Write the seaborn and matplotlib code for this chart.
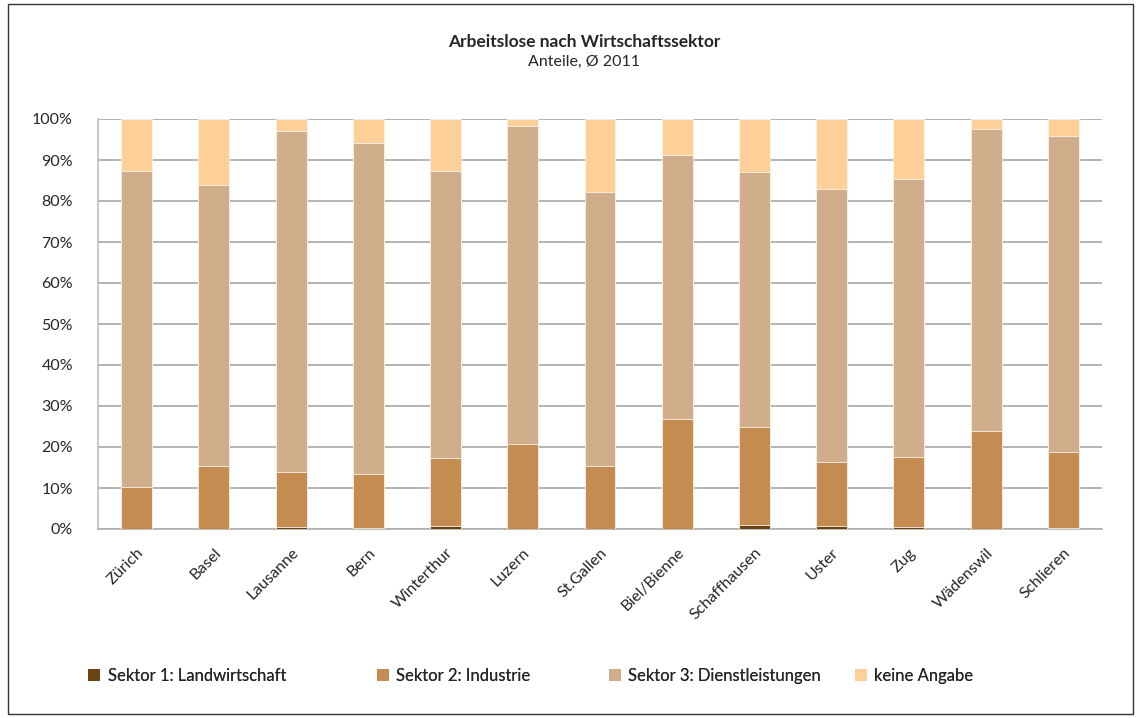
import numpy as np
import pandas as pd
import matplotlib.pyplot as plt
import seaborn as sns
from matplotlib.patches import Patch, Rectangle

# Data (shares in %)
staedte = ['Zürich', 'Basel', 'Lausanne', 'Bern', 'Winterthur', 'Luzern', 'St.Gallen',
           'Biel/Bienne', 'Schaffhausen', 'Uster', 'Zug', 'Wädenswil', 'Schlieren']
sektor1 = [0.1, 0.1, 0.4, 0.2, 0.7, 0.1, 0.1, 0.1, 0.9, 0.7, 0.4, 0.1, 0.2]
sektor2 = [10.1, 15.3, 13.6, 13.1, 16.5, 20.7, 15.3, 26.8, 24.0, 15.7, 17.2, 23.7, 18.7]
sektor3 = [77.2, 68.6, 83.1, 80.9, 70.0, 77.4, 66.9, 64.4, 62.2, 66.5, 67.8, 73.8, 76.9]
keine_angabe = [12.6, 16.0, 2.9, 5.8, 12.8, 1.8, 17.7, 8.7, 12.9, 17.1, 14.6, 2.4, 4.2]

labels = ['Sektor 1: Landwirtschaft', 'Sektor 2: Industrie',
          'Sektor 3: Dienstleistungen', 'keine Angabe']
farben = ['#6B4312', '#C48C50', '#D0AE8C', '#FECF97']

df = pd.DataFrame({'Stadt': staedte, 's1': sektor1, 's2': sektor2,
                   's3': sektor3, 's4': keine_angabe})
# normalise to 100 and build cumulative tops for stacking
tot = df[['s1', 's2', 's3', 's4']].sum(axis=1)
for c in ['s1', 's2', 's3', 's4']:
    df[c] = df[c] / tot * 100
df['c1'] = df['s1'] / 100
df['c2'] = (df['s1'] + df['s2']) / 100
df['c3'] = (df['s1'] + df['s2'] + df['s3']) / 100
df['c4'] = (df['s1'] + df['s2'] + df['s3'] + df['s4']) / 100

sns.set_style('white')
plt.rcParams['font.family'] = ['Lato', 'DejaVu Sans']

fig = plt.figure(figsize=(11.38, 7.18), dpi=100)
ax = fig.add_axes([98 / 1138, 1 - 529 / 718, 1004 / 1138, 410 / 718])

# draw tallest first so the lower segments sit on top
for col, farbe in zip(['c4', 'c3', 'c2', 'c1'], farben[::-1]):
    sns.barplot(data=df, x='Stadt', y=col, color=farbe, width=0.4,
                edgecolor='#fbf3ea', linewidth=0.6, saturation=1, ax=ax, zorder=3)

ax.set_ylim(0, 1)
ax.set_xlim(-0.5, len(staedte) - 0.5)
ax.set_yticks(np.arange(0, 1.01, 0.1))
ax.set_yticklabels([f'{int(round(v * 100))}%' for v in np.arange(0, 1.01, 0.1)])
ax.yaxis.grid(True, color='#a6a6a6', linewidth=1.2, zorder=0)
ax.set_axisbelow(True)
ax.set_xlabel('')
ax.set_ylabel('')

ax.set_xticks(range(len(staedte)))
ax.set_xticklabels(staedte, rotation=45, ha='right', rotation_mode='anchor')
ax.set_xticks(np.arange(-0.5, len(staedte), 1), minor=True)
ax.tick_params(axis='x', which='major', length=0, pad=12, labelsize=11.5)
ax.tick_params(axis='x', which='minor', length=6, color='#b0b0b0', width=1, direction='out')
ax.tick_params(axis='y', length=5, color='#a6a6a6', width=1, labelsize=11.5, pad=13, direction='out')

for s in ['top', 'right']:
    ax.spines[s].set_visible(False)
ax.spines['left'].set_color('#c0c0c0')
ax.spines['bottom'].set_color('#b0b0b0')
ax.spines['left'].set_linewidth(1.2)
ax.spines['bottom'].set_linewidth(1.2)

fig.text(584 / 1138, 1 - 42 / 718, 'Arbeitslose nach Wirtschaftssektor',
         ha='center', va='center', fontsize=12.5, fontweight='bold')
fig.text(584 / 1138, 1 - 62 / 718, 'Anteile, Ø 2011', ha='center', va='center', fontsize=11.5)

# legend entries at their own positions
leg_x = [88, 377, 609, 855]
for lab, farbe, x in zip(labels, farben, leg_x):
    h = Patch(facecolor=farbe, edgecolor='none')
    lg = fig.legend(handles=[h], labels=[lab], loc='center left',
                    bbox_to_anchor=(x / 1138, 1 - 676 / 718), frameon=False,
                    fontsize=12, handlelength=0.72, handleheight=0.72,
                    handletextpad=0.45, borderaxespad=0, borderpad=0)
    fig.add_artist(lg)

# outer frame
fig.patches.append(Rectangle((8 / 1138, 4 / 718), 1125 / 1138, 710 / 718,
                             transform=fig.transFigure, fill=False,
                             edgecolor='#333333', linewidth=1))

fig.savefig('out.png', dpi=100)
